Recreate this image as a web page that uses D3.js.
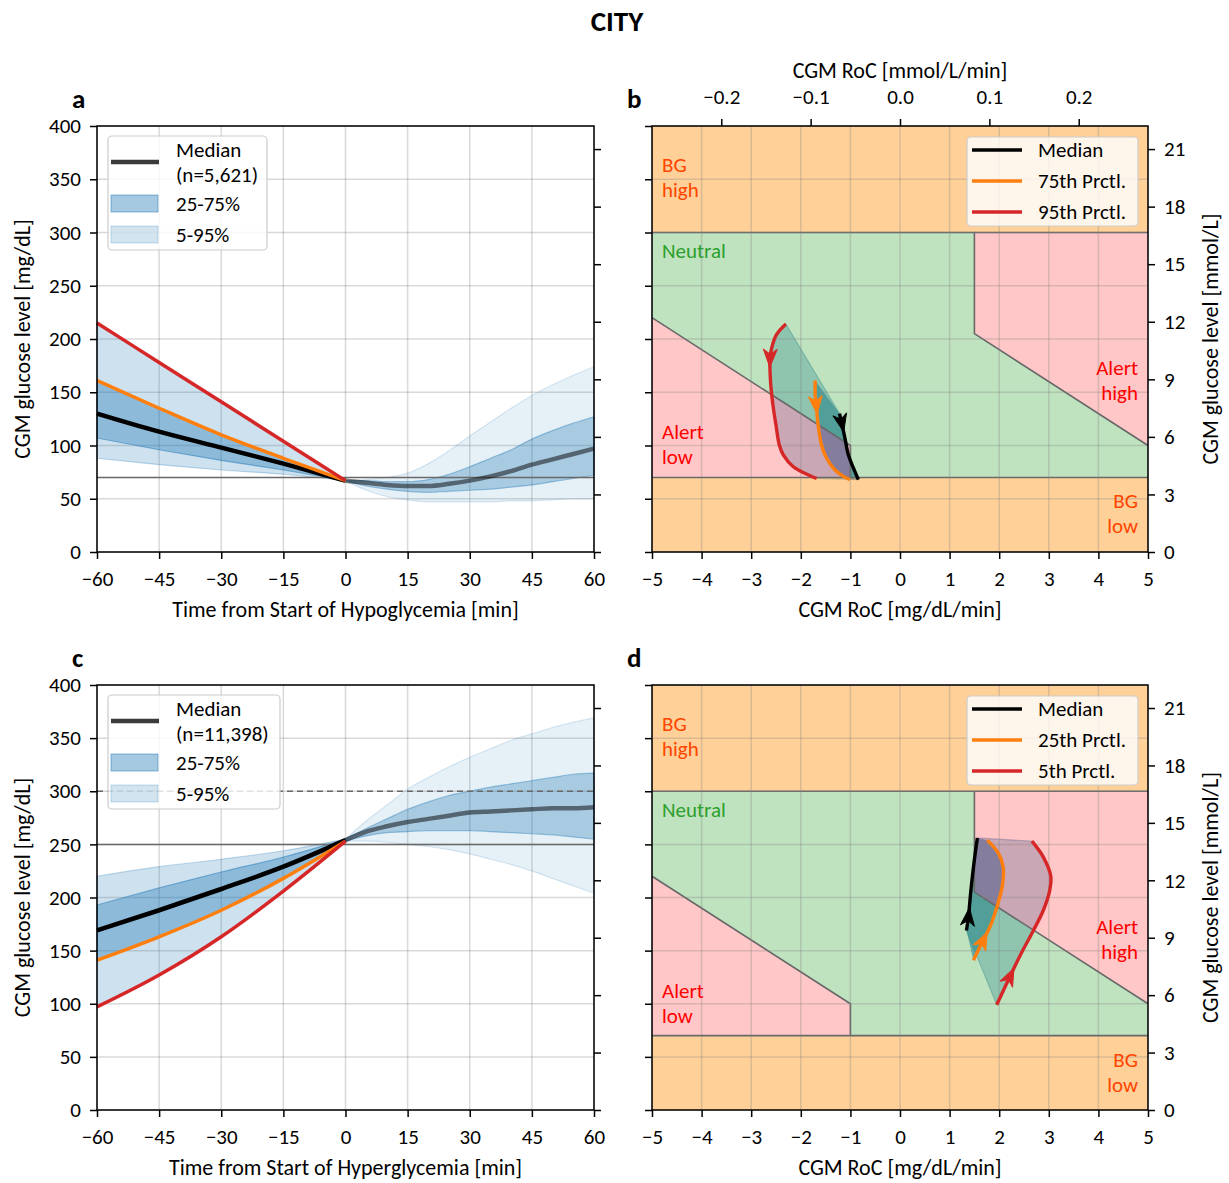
<!DOCTYPE html>
<html>
<head>
<meta charset="utf-8">
<script src="https://cdn.jsdelivr.net/npm/d3@7"></script>
<style>
body { margin: 0; background: #fff; }
text { font-family: Carlito, Lato, "Open Sans", sans-serif; }
</style>
</head>
<body>
<svg id="fig" width="1229" height="1183"></svg>
<script>
// ---- data ----
var MMOL = 18.016;
var minutes = [-60, -45, -30, -15, 0, 5, 10, 15, 20, 25, 30, 35, 40, 45, 50, 55, 60];

// hypoglycemia (panel a), mg/dL
var hypoP5  = [88, 82, 77, 73, 67, 58, 52, 49, 47, 47, 47, 47, 48, 48, 49, 50, 50];
var hypoP25 = [107, 96, 86, 77, 67, 62, 59, 57, 56, 57, 58, 59, 61, 63, 66, 69, 72];
var hypoP50 = [130, 113, 98, 83, 67, 65, 63, 62, 62, 64, 67, 71, 76, 82, 87, 92, 97];
var hypoP75 = [161, 135, 110, 88, 67, 67, 66, 66, 68, 73, 80, 88, 96, 106, 114, 121, 127];
var hypoP95 = [215, 178, 141, 104, 67, 68, 70, 74, 83, 95, 109, 122, 135, 147, 157, 166, 174];

// hyperglycemia (panel c), mg/dL
var hyperP5  = [97, 127, 163, 206, 253, 253, 252, 250, 248, 245, 241, 236, 231, 225, 218, 211, 204];
var hyperP25 = [141, 163, 188, 218, 253, 258, 261, 262, 263, 263, 263, 262, 261, 260, 259, 257, 255];
var hyperP50 = [169, 188, 208, 229, 254, 262, 267, 271, 274, 277, 280, 281, 282, 283, 284, 284, 285];
var hyperP75 = [193, 209, 224, 238, 255, 265, 274, 283, 290, 296, 300, 304, 307, 310, 313, 316, 317];
var hyperP95 = [220, 229, 236, 244, 255, 272, 287, 302, 313, 323, 332, 340, 348, 354, 360, 365, 369];

// phase trajectories (panel b), from -60 min to 0 min
var hypoRocP50 = [-1.22, -1.175, -1.11, -1.04, -0.94, -0.84];
var hypoBgP50  = [130, 121, 107, 91, 79, 68];
var hypoRocP75 = [-1.71, -1.71, -1.69, -1.65, -1.58, -1.48, -1.31, -1.14, -1.01];
var hypoBgP75  = [161, 147, 138, 119, 100, 88, 77, 71, 68];
var hypoRocP95 = [-2.30, -2.49, -2.59, -2.62, -2.61, -2.57, -2.50, -2.43, -2.35, -2.15, -1.92, -1.68];
var hypoBgP95  = [214, 204, 191, 182, 160, 141, 119, 100, 91, 80, 74, 69];

// phase trajectories (panel d)
var hyperRocP50 = [1.34, 1.38, 1.43, 1.49, 1.56];
var hyperBgP50  = [169, 182, 207, 232, 256];
var hyperRocP25 = [1.48, 1.68, 1.82, 1.98, 2.07, 2.08, 1.98, 1.76];
var hyperBgP25  = [141, 160, 173, 195, 213, 229, 242, 254];
var hyperRocP5  = [1.95, 2.22, 2.45, 2.69, 2.89, 3.02, 3.04, 2.89, 2.66];
var hyperBgP5   = [99, 126, 148, 169, 188, 207, 220, 238, 253];

var timeTicks = [-60, -45, -30, -15, 0, 15, 30, 45, 60];
var mgTicks = [0, 50, 100, 150, 200, 250, 300, 350, 400];
var mmolTicks = [0, 3, 6, 9, 12, 15, 18, 21];
var rocTicks = [-5, -4, -3, -2, -1, 0, 1, 2, 3, 4, 5];
var rocMmolTicks = [-0.2, -0.1, 0.0, 0.1, 0.2];

// zones in (RoC mg/dL/min, BG mg/dL)
var zoneBgHigh = [[-5, 300], [5, 300], [5, 400], [-5, 400]];
var zoneBgLow = [[-5, 0], [5, 0], [5, 70], [-5, 70]];
var zoneNeutral = [[-5, 220], [-1, 100], [-1, 70], [5, 70], [5, 100], [1.5, 205], [1.5, 300], [-5, 300]];
var zoneAlertLow = [[-5, 70], [-1, 70], [-1, 100], [-5, 220]];
var zoneAlertHigh = [[1.5, 300], [5, 300], [5, 100], [1.5, 205]];

// ---- drawing ----
var FONT = 'Carlito, Lato, "Open Sans", sans-serif';
var BLUE = "#1f77b4", ORANGE = "#ff7f0e", RED = "#d62728";
var TICK = 21, LABEL = 22, LEG = 21, GAP = 25.5;
var svg = d3.select("#fig");

svg.append("text").attr("x", 617).attr("y", 21).attr("dy", "0.35em")
    .attr("text-anchor", "middle").attr("font-size", 29).attr("font-weight", "bold").text("CITY");

function styleAxis(sel) {
    sel.select(".domain").remove();
    sel.selectAll(".tick line").attr("stroke", "#000").attr("stroke-width", 1.5);
    sel.selectAll(".tick text").attr("font-size", TICK).attr("fill", "#000").style("font-family", FONT);
}

function grid(g, x, y, xt, yt, p) {
    g.append("g").selectAll("line").data(xt).join("line")
        .attr("x1", function(d) { return x(d); }).attr("x2", function(d) { return x(d); })
        .attr("y1", 0).attr("y2", p.h)
        .attr("stroke", "#808080").attr("stroke-opacity", 0.3).attr("stroke-width", 1.5);
    g.append("g").selectAll("line").data(yt).join("line")
        .attr("y1", function(d) { return y(d); }).attr("y2", function(d) { return y(d); })
        .attr("x1", 0).attr("x2", p.w)
        .attr("stroke", "#808080").attr("stroke-opacity", 0.3).attr("stroke-width", 1.5);
}

// stacked lines of one label, centred on yy (first line)
function twoLines(g, xx, yy, lines, anchor, color) {
    lines.forEach(function(s, i) {
        g.append("text").attr("x", xx).attr("y", yy + i * GAP).attr("dy", "0.35em")
            .attr("text-anchor", anchor).attr("font-size", LEG).attr("fill", color).text(s);
    });
}

function legendBox(g, x0, y0, w, h) {
    g.append("rect").attr("x", x0).attr("y", y0).attr("width", w).attr("height", h)
        .attr("rx", 4).attr("fill", "#fff").attr("fill-opacity", 0.8)
        .attr("stroke", "#cccccc").attr("stroke-width", 1.2);
}

function timePanel(p, s) {
    var g = svg.append("g").attr("transform", "translate(" + p.x + "," + p.y + ")");
    var x = d3.scaleLinear().domain([-60, 60]).range([0, p.w]);
    var y = d3.scaleLinear().domain([0, 400]).range([p.h, 0]);
    var yMmol = d3.scaleLinear().domain([0, 400 / MMOL]).range([p.h, 0]);

    grid(g, x, y, timeTicks, mgTicks, p);

    var all = minutes.map(function(t, i) { return i; });
    var pre = all.filter(function(i) { return minutes[i] <= 0; });
    var post = all.filter(function(i) { return minutes[i] >= 0; });
    var band = function(lo, hi) {
        return d3.area().x(function(i) { return x(minutes[i]); })
            .y0(function(i) { return y(lo[i]); }).y1(function(i) { return y(hi[i]); })
            .curve(d3.curveMonotoneX);
    };
    [[pre, 0.22, 0.37], [post, 0.11, 0.3]].forEach(function(b) {
        g.append("path").attr("d", band(s.p5, s.p95)(b[0]))
            .attr("fill", BLUE).attr("fill-opacity", b[1])
            .attr("stroke", BLUE).attr("stroke-opacity", b[1] + 0.05).attr("stroke-width", 1.2);
        g.append("path").attr("d", band(s.p25, s.p75)(b[0]))
            .attr("fill", BLUE).attr("fill-opacity", b[2])
            .attr("stroke", BLUE).attr("stroke-opacity", b[2] + 0.1).attr("stroke-width", 1.2);
    });

    g.append("line").attr("x1", 0).attr("x2", p.w).attr("y1", y(s.threshold)).attr("y2", y(s.threshold))
        .attr("stroke", "#696969").attr("stroke-width", 1.5);
    if (s.dashed) {
        g.append("line").attr("x1", 0).attr("x2", p.w).attr("y1", y(s.dashed)).attr("y2", y(s.dashed))
            .attr("stroke", "#696969").attr("stroke-width", 1.5).attr("stroke-dasharray", "6,4");
    }

    var line = function(v) {
        return d3.line().x(function(i) { return x(minutes[i]); }).y(function(i) { return y(v[i]); })
            .curve(d3.curveMonotoneX);
    };
    g.append("path").attr("d", line(s.p50)(post)).attr("fill", "none")
        .attr("stroke", "#000").attr("stroke-opacity", 0.5).attr("stroke-width", 4.5);
    g.append("path").attr("d", line(s.p50)(pre)).attr("fill", "none")
        .attr("stroke", "#000").attr("stroke-width", 4.5);
    s.lines.forEach(function(l) {
        g.append("path").attr("d", line(l.v)(pre)).attr("fill", "none")
            .attr("stroke", l.c).attr("stroke-width", 3.5);
    });

    // legend
    var lg = g.append("g");
    legendBox(lg, 11, 10, s.legendW, 114);
    lg.append("line").attr("x1", 14).attr("x2", 62).attr("y1", 36).attr("y2", 36)
        .attr("stroke", "#3a3a3a").attr("stroke-width", 4.5);
    twoLines(lg, 79, 23.5, ["Median", s.n], "start", "#000");
    lg.append("rect").attr("x", 14).attr("y", 69).attr("width", 47).attr("height", 17)
        .attr("fill", BLUE).attr("fill-opacity", 0.4).attr("stroke", BLUE).attr("stroke-opacity", 0.5);
    lg.append("text").attr("x", 79).attr("y", 78).attr("dy", "0.35em").attr("font-size", LEG).text("25-75%");
    lg.append("rect").attr("x", 14).attr("y", 100).attr("width", 47).attr("height", 17)
        .attr("fill", BLUE).attr("fill-opacity", 0.2).attr("stroke", BLUE).attr("stroke-opacity", 0.25);
    lg.append("text").attr("x", 79).attr("y", 109).attr("dy", "0.35em").attr("font-size", LEG).text("5-95%");

    g.append("rect").attr("width", p.w).attr("height", p.h).attr("fill", "none")
        .attr("stroke", "#000").attr("stroke-width", 1.5);

    g.append("g").attr("transform", "translate(0," + p.h + ")")
        .call(d3.axisBottom(x).tickValues(timeTicks).tickSize(7).tickPadding(12)).call(styleAxis);
    g.append("g").call(d3.axisLeft(y).tickValues(mgTicks).tickSize(7).tickPadding(9)).call(styleAxis);
    g.append("g").attr("transform", "translate(" + p.w + ",0)")
        .call(d3.axisRight(yMmol).tickValues(mmolTicks).tickSize(7).tickFormat("")).call(styleAxis);

    g.append("text").attr("x", p.w / 2).attr("y", p.h + 57).attr("dy", "0.35em").attr("text-anchor", "middle")
        .attr("font-size", LABEL).text(s.xlabel);
    g.append("text").attr("transform", "translate(-75," + (p.h / 2) + ") rotate(-90)")
        .attr("text-anchor", "middle").attr("dy", "0.35em").attr("font-size", LABEL).text("CGM glucose level [mg/dL]");
    g.append("text").attr("x", -25).attr("y", -27).attr("dy", "0.35em").attr("font-size", 27)
        .attr("font-weight", "bold").text(s.letter);
}

function arrowHead(g, px, k, color) {
    var a = px[k - 1], b = px[k + 1], c = px[k];
    var dx = b[0] - a[0], dy = b[1] - a[1], L = Math.hypot(dx, dy);
    dx /= L; dy /= L;
    var len = 18, half = 7, nx = -dy, ny = dx;
    var tip = [c[0] + dx * len / 2, c[1] + dy * len / 2];
    var back = [c[0] - dx * len / 2, c[1] - dy * len / 2];
    var notch = [c[0] - dx * len * 0.22, c[1] - dy * len * 0.22];
    var pts = [tip, [back[0] + nx * half, back[1] + ny * half], notch, [back[0] - nx * half, back[1] - ny * half]];
    g.append("path").attr("d", "M" + pts.join("L") + "Z").attr("fill", color).attr("stroke", color).attr("stroke-width", 1);
}

function phasePanel(p, s) {
    var g = svg.append("g").attr("transform", "translate(" + p.x + "," + p.y + ")");
    var x = d3.scaleLinear().domain([-5, 5]).range([0, p.w]);
    var y = d3.scaleLinear().domain([0, 400]).range([p.h, 0]);
    var yMmol = d3.scaleLinear().domain([0, 400 / MMOL]).range([p.h, 0]);
    var xMmol = d3.scaleLinear().domain([-5 / MMOL, 5 / MMOL]).range([0, p.w]);

    var pix = function(t) { return t.roc.map(function(r, i) { return [x(r), y(t.bg[i])]; }); };
    var smooth = d3.line().curve(d3.curveCatmullRom);
    var fillPath = function(A, B) {
        var a = smooth(pix(A));
        var b = smooth(pix(B).reverse());
        return a + "L" + b.slice(1) + "Z";
    };
    var med = s.traj[0], mid = s.traj[1], out = s.traj[2];
    g.append("path").attr("d", fillPath(med, out)).attr("fill", BLUE).attr("fill-opacity", 0.3)
        .attr("stroke", BLUE).attr("stroke-opacity", 0.35).attr("stroke-width", 1.2);
    g.append("path").attr("d", fillPath(med, mid)).attr("fill", BLUE).attr("fill-opacity", 0.57);

    var poly = d3.line().x(function(d) { return x(d[0]); }).y(function(d) { return y(d[1]); });
    [[zoneBgHigh, "darkorange", 0.4], [zoneBgLow, "darkorange", 0.4], [zoneNeutral, "#2ca02c", 0.3],
     [zoneAlertLow, "#ff0000", 0.22], [zoneAlertHigh, "#ff0000", 0.22]].forEach(function(z) {
        g.append("path").attr("d", poly(z[0]) + "Z").attr("fill", z[1]).attr("fill-opacity", z[2]);
    });
    [[[-5, 300], [5, 300]], [[-5, 70], [5, 70]], [[-5, 220], [-1, 100], [-1, 70]], [[1.5, 300], [1.5, 205], [5, 100]]]
        .forEach(function(l) {
            g.append("path").attr("d", poly(l)).attr("fill", "none")
                .attr("stroke", "#696969").attr("stroke-width", 1.6);
        });

    grid(g, x, y, rocTicks, mgTicks, p);

    s.traj.forEach(function(t) {
        var px = pix(t);
        g.append("path").attr("d", smooth(px)).attr("fill", "none")
            .attr("stroke", t.color).attr("stroke-width", 3.4);
        arrowHead(g, px, t.arrow, t.color);
    });

    twoLines(g, 10, 38.5, ["BG", "high"], "start", "orangered");
    twoLines(g, 10, 125, ["Neutral"], "start", "#2ca02c");
    twoLines(g, 10, 305.5, ["Alert", "low"], "start", "#ff0000");
    twoLines(g, p.w - 10, 241.5, ["Alert", "high"], "end", "#ff0000");
    twoLines(g, p.w - 10, 374.5, ["BG", "low"], "end", "orangered");

    var lg = g.append("g");
    legendBox(lg, 315, 11, 171, 89);
    s.traj.forEach(function(t, i) {
        var yy = 24 + i * 31;
        lg.append("line").attr("x1", 320).attr("x2", 370).attr("y1", yy).attr("y2", yy)
            .attr("stroke", t.color).attr("stroke-width", 3.4);
        lg.append("text").attr("x", 386).attr("y", yy).attr("dy", "0.35em").attr("font-size", LEG).text(t.name);
    });

    g.append("rect").attr("width", p.w).attr("height", p.h).attr("fill", "none")
        .attr("stroke", "#000").attr("stroke-width", 1.5);

    g.append("g").attr("transform", "translate(0," + p.h + ")")
        .call(d3.axisBottom(x).tickValues(rocTicks).tickSize(7).tickPadding(12)).call(styleAxis);
    g.append("g").call(d3.axisLeft(y).tickValues(mgTicks).tickSize(7).tickFormat("")).call(styleAxis);
    g.append("g").attr("transform", "translate(" + p.w + ",0)")
        .call(d3.axisRight(yMmol).tickValues(mmolTicks).tickSize(7).tickPadding(9)).call(styleAxis);
    if (s.top) {
        g.append("g").call(d3.axisTop(xMmol).tickValues(rocMmolTicks).tickSize(7).tickPadding(15)
            .tickFormat(d3.format(".1f"))).call(styleAxis);
        g.append("text").attr("x", p.w / 2).attr("y", -56).attr("dy", "0.35em").attr("text-anchor", "middle")
            .attr("font-size", LABEL).text("CGM RoC [mmol/L/min]");
    }

    g.append("text").attr("x", p.w / 2).attr("y", p.h + 57).attr("dy", "0.35em").attr("text-anchor", "middle")
        .attr("font-size", LABEL).text("CGM RoC [mg/dL/min]");
    g.append("text").attr("transform", "translate(" + (p.w + 62) + "," + (p.h / 2) + ") rotate(-90)")
        .attr("text-anchor", "middle").attr("dy", "0.35em").attr("font-size", LABEL).text("CGM glucose level [mmol/L]");
    g.append("text").attr("x", -25).attr("y", -27).attr("dy", "0.35em").attr("font-size", 27)
        .attr("font-weight", "bold").text(s.letter);
}

timePanel({ x: 97, y: 126, w: 497, h: 426 }, {
    letter: "a", n: "(n=5,621)", legendW: 159, threshold: 70,
    p5: hypoP5, p25: hypoP25, p50: hypoP50, p75: hypoP75, p95: hypoP95,
    lines: [{ v: hypoP75, c: ORANGE }, { v: hypoP95, c: RED }],
    xlabel: "Time from Start of Hypoglycemia [min]"
});
timePanel({ x: 97, y: 685, w: 497, h: 425 }, {
    letter: "c", n: "(n=11,398)", legendW: 172, threshold: 250, dashed: 300,
    p5: hyperP5, p25: hyperP25, p50: hyperP50, p75: hyperP75, p95: hyperP95,
    lines: [{ v: hyperP25, c: ORANGE }, { v: hyperP5, c: RED }],
    xlabel: "Time from Start of Hyperglycemia [min]"
});
phasePanel({ x: 652, y: 126, w: 496, h: 426 }, {
    letter: "b", top: true,
    traj: [
        { name: "Median", color: "#000", roc: hypoRocP50, bg: hypoBgP50, arrow: 1 },
        { name: "75th Prctl.", color: ORANGE, roc: hypoRocP75, bg: hypoBgP75, arrow: 2 },
        { name: "95th Prctl.", color: RED, roc: hypoRocP95, bg: hypoBgP95, arrow: 3 }
    ]
});
phasePanel({ x: 652, y: 685, w: 496, h: 425 }, {
    letter: "d", top: false,
    traj: [
        { name: "Median", color: "#000", roc: hyperRocP50, bg: hyperBgP50, arrow: 1 },
        { name: "25th Prctl.", color: ORANGE, roc: hyperRocP25, bg: hyperBgP25, arrow: 1 },
        { name: "5th Prctl.", color: RED, roc: hyperRocP5, bg: hyperBgP5, arrow: 1 }
    ]
});
</script>
</body>
</html>
